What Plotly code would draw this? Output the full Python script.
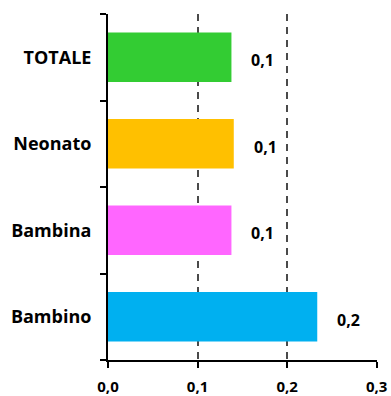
import plotly.graph_objects as go

# Categories listed bottom-to-top
categories = ["Bambino", "Bambina", "Neonato", "TOTALE"]
values = [0.2336, 0.1378, 0.1404, 0.1378]
colors = ["#00B0F0", "#FF66FF", "#FFC000", "#33CC33"]
x_ticks = [0.0, 0.1, 0.2, 0.3]

FONT = "Open Sans"

fig = go.Figure()
fig.add_trace(go.Bar(
    x=values,
    y=categories,
    orientation="h",
    marker=dict(color=colors, line=dict(width=0)),
    width=0.57,
    hoverinfo="skip",
))

# Value labels to the right of each bar
for cat, v in zip(categories, values):
    fig.add_annotation(
        x=v, y=cat, xref="x", yref="y",
        text=f"{v:.1f}".replace(".", ","),
        showarrow=False, xanchor="left", yanchor="middle",
        xshift=18, yshift=-3,
        font=dict(family=FONT, size=16, color="#000000", weight="bold"),
    )

fig.update_layout(
    width=391, height=396,
    margin=dict(l=108, r=14, t=14, b=36),
    paper_bgcolor="white", plot_bgcolor="white",
    separators=",.",
    showlegend=False,
    bargap=0.43,
    xaxis=dict(
        range=[0, 0.3003],
        tickvals=x_ticks,
        tickformat=".1f",
        showgrid=True, gridcolor="#4a4a4a", gridwidth=1.5, griddash="7px,6px",
        zeroline=False,
        showline=True, linecolor="black", linewidth=2,
        ticks="outside", ticklen=6, tickwidth=2, tickcolor="black",
        ticklabelstandoff=6,
        automargin=False,
        tickfont=dict(family=FONT, size=15, color="#000000", weight="bold"),
        fixedrange=True,
    ),
    yaxis=dict(
        categoryorder="array", categoryarray=categories,
        showgrid=False, zeroline=False,
        showline=True, linecolor="black", linewidth=2,
        ticks="outside", ticklen=6, tickwidth=2, tickcolor="black",
        tickson="boundaries",
        ticklabelstandoff=11,
        automargin=False,
        tickfont=dict(family=FONT, size=18, color="#000000", weight="bold"),
        fixedrange=True,
    ),
)

fig.write_html("out.html")
